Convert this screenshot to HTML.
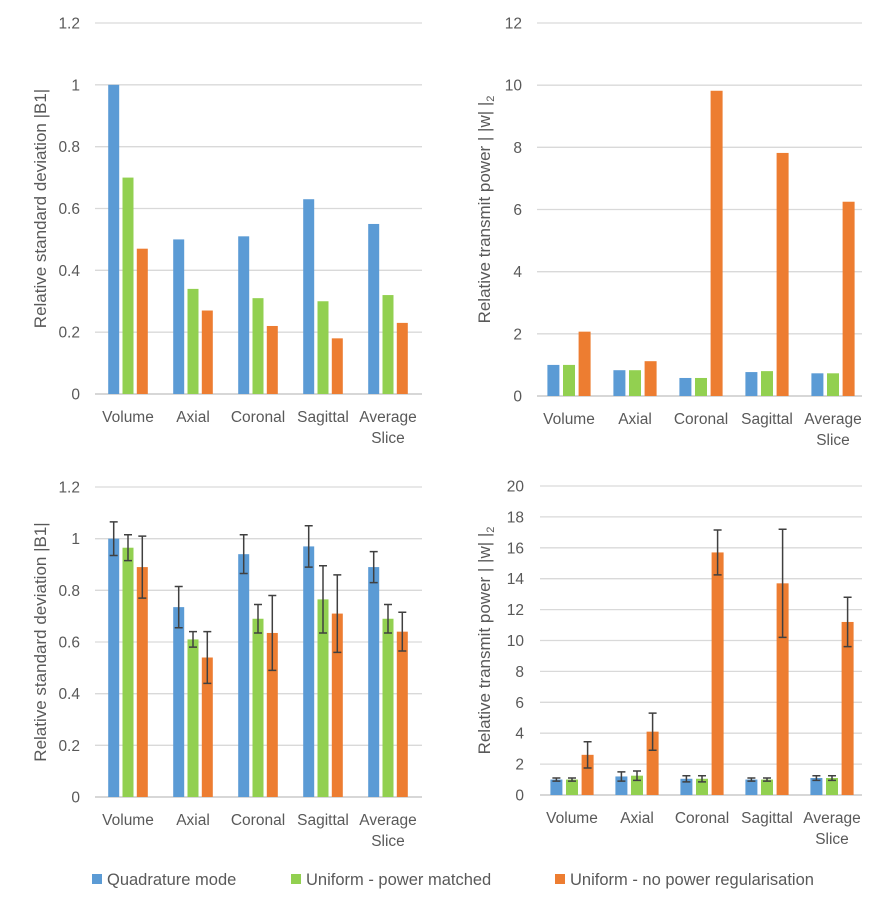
<!DOCTYPE html>
<html><head><meta charset="utf-8"><style>
body{margin:0;background:#fff;}
svg{font-family:"Liberation Sans",Arial,sans-serif;}
</style></head><body>
<svg id="s" width="892" height="898" xmlns="http://www.w3.org/2000/svg"></svg>
<script>
const categories=[["Volume"],["Axial"],["Coronal"],["Sagittal"],["Average","Slice"]];
const seriesNames=["Quadrature mode","Uniform - power matched","Uniform - no power regularisation"];
const colors=["#5b9bd5","#92d050","#ed7d31"];
const tlQuad=[1.0,0.50,0.51,0.63,0.55];
const tlPow=[0.70,0.34,0.31,0.30,0.32];
const tlNo=[0.47,0.27,0.22,0.18,0.23];
const trQuad=[1.0,0.83,0.58,0.77,0.73];
const trPow=[1.0,0.83,0.58,0.80,0.73];
const trNo=[2.07,1.12,9.82,7.82,6.25];
const blQuad=[1.0,0.735,0.94,0.97,0.89];
const blPow=[0.965,0.61,0.69,0.765,0.69];
const blNo=[0.89,0.54,0.635,0.71,0.64];
const blQuadErr=[0.065,0.08,0.075,0.08,0.06];
const blPowErr=[0.05,0.03,0.055,0.13,0.055];
const blNoErr=[0.12,0.10,0.145,0.15,0.075];
const brQuad=[1.0,1.2,1.05,1.0,1.1];
const brPow=[1.0,1.25,1.05,1.0,1.1];
const brNo=[2.6,4.1,15.7,13.7,11.2];
const brQuadErr=[0.1,0.3,0.2,0.1,0.15];
const brPowErr=[0.1,0.3,0.2,0.1,0.15];
const brNoErr=[0.85,1.2,1.45,3.5,1.6];
const ticksA=["0","0.2","0.4","0.6","0.8","1","1.2"];
const ticksB=["0","2","4","6","8","10","12"];
const ticksC=["0","2","4","6","8","10","12","14","16","18","20"];

const NS="http://www.w3.org/2000/svg";
const svg=document.getElementById("s");
function el(tag,attrs,parent,text){const e=document.createElementNS(NS,tag);for(const k in attrs)e.setAttribute(k,attrs[k]);if(text!==undefined)e.textContent=text;(parent||svg).appendChild(e);return e;}

function chart(o){
  const g=el("g",{},svg);
  
  
  const ymax=parseFloat(o.ticks[o.ticks.length-1]);
  const y=v=>o.y0-(v/ymax)*(o.y0-o.y1);
  const x=i=>o.c0+i*o.step;
  o.ticks.forEach(t=>{
    const v=parseFloat(t);
    const ln=el("line",{x1:o.gx0,x2:o.gx1,y1:y(v),y2:y(v),stroke:v===0?"#bfbfbf":"#d9d9d9","stroke-width":1.3},g);
    
    
    const tx=el("text",{x:o.lx,y:y(v)+5.5,"text-anchor":"end","font-size":15.5,fill:"#595959"},g,t);
    
    
  });
  const tt=el("text",{transform:`translate(${o.tx},${(o.y0+o.y1)/2}) rotate(-90)`,"text-anchor":"middle","font-size":17,fill:"#595959"},g,o.title);
  
  
  if(o.sub){const ts=el("tspan",{"font-size":11,dy:4},tt,"2");}
  categories.forEach((c,i)=>{
    c.forEach((line,k)=>{
      const t=el("text",{x:x(i),y:o.y0+28+k*21,"text-anchor":"middle","font-size":15.5,fill:"#595959"},g,line);
      
      
    });
  });
  o.series.forEach((vals,s)=>{
    vals.forEach((v,i)=>{
      const cx=x(i)+(s-1)*o.bw*1.3;
      const r=el("rect",{x:cx-o.bw/2,y:y(v),width:o.bw,height:o.y0-y(v),fill:colors[s]},g);
      
      
      if(o.err){
        const e=o.err[s][i];
        const p=el("path",{d:`M${cx},${y(v+e)}V${y(v-e)}M${cx-4},${y(v+e)}h8M${cx-4},${y(v-e)}h8`,stroke:"#404040","stroke-width":1.5,fill:"none"},g);
        
        
      }
    });
  });
}
chart({name:"chart-top-left",ticks:ticksA,y0:394,y1:23,gx0:95,gx1:422,lx:80,c0:128,step:65,bw:11,tx:46,title:"Relative standard deviation |B1|",series:[tlQuad,tlPow,tlNo]});
chart({name:"chart-top-right",ticks:ticksB,y0:396,y1:23,gx0:537,gx1:862,lx:522,c0:569,step:66,bw:12,tx:490,title:"Relative transmit power | |w| |",sub:true,series:[trQuad,trPow,trNo]});
chart({name:"chart-bottom-left",ticks:ticksA,y0:797,y1:487,gx0:95,gx1:422,lx:80,c0:128,step:65,bw:11,tx:46,title:"Relative standard deviation |B1|",series:[blQuad,blPow,blNo],err:[blQuadErr,blPowErr,blNoErr]});
chart({name:"chart-bottom-right",ticks:ticksC,y0:795,y1:486,gx0:540,gx1:862,lx:524,c0:572,step:65,bw:12,tx:490,title:"Relative  transmit power | |w| |",sub:true,series:[brQuad,brPow,brNo],err:[brQuadErr,brPowErr,brNoErr]});

const legX=[92,291,555];
seriesNames.forEach((n,i)=>{
  const r=el("rect",{x:legX[i],y:874,width:10,height:10,fill:colors[i]});
  
  
  const t=el("text",{x:legX[i]+15,y:885,"font-size":16.5,fill:"#595959"},svg,n);
  
  
});
</script>
</body></html>
